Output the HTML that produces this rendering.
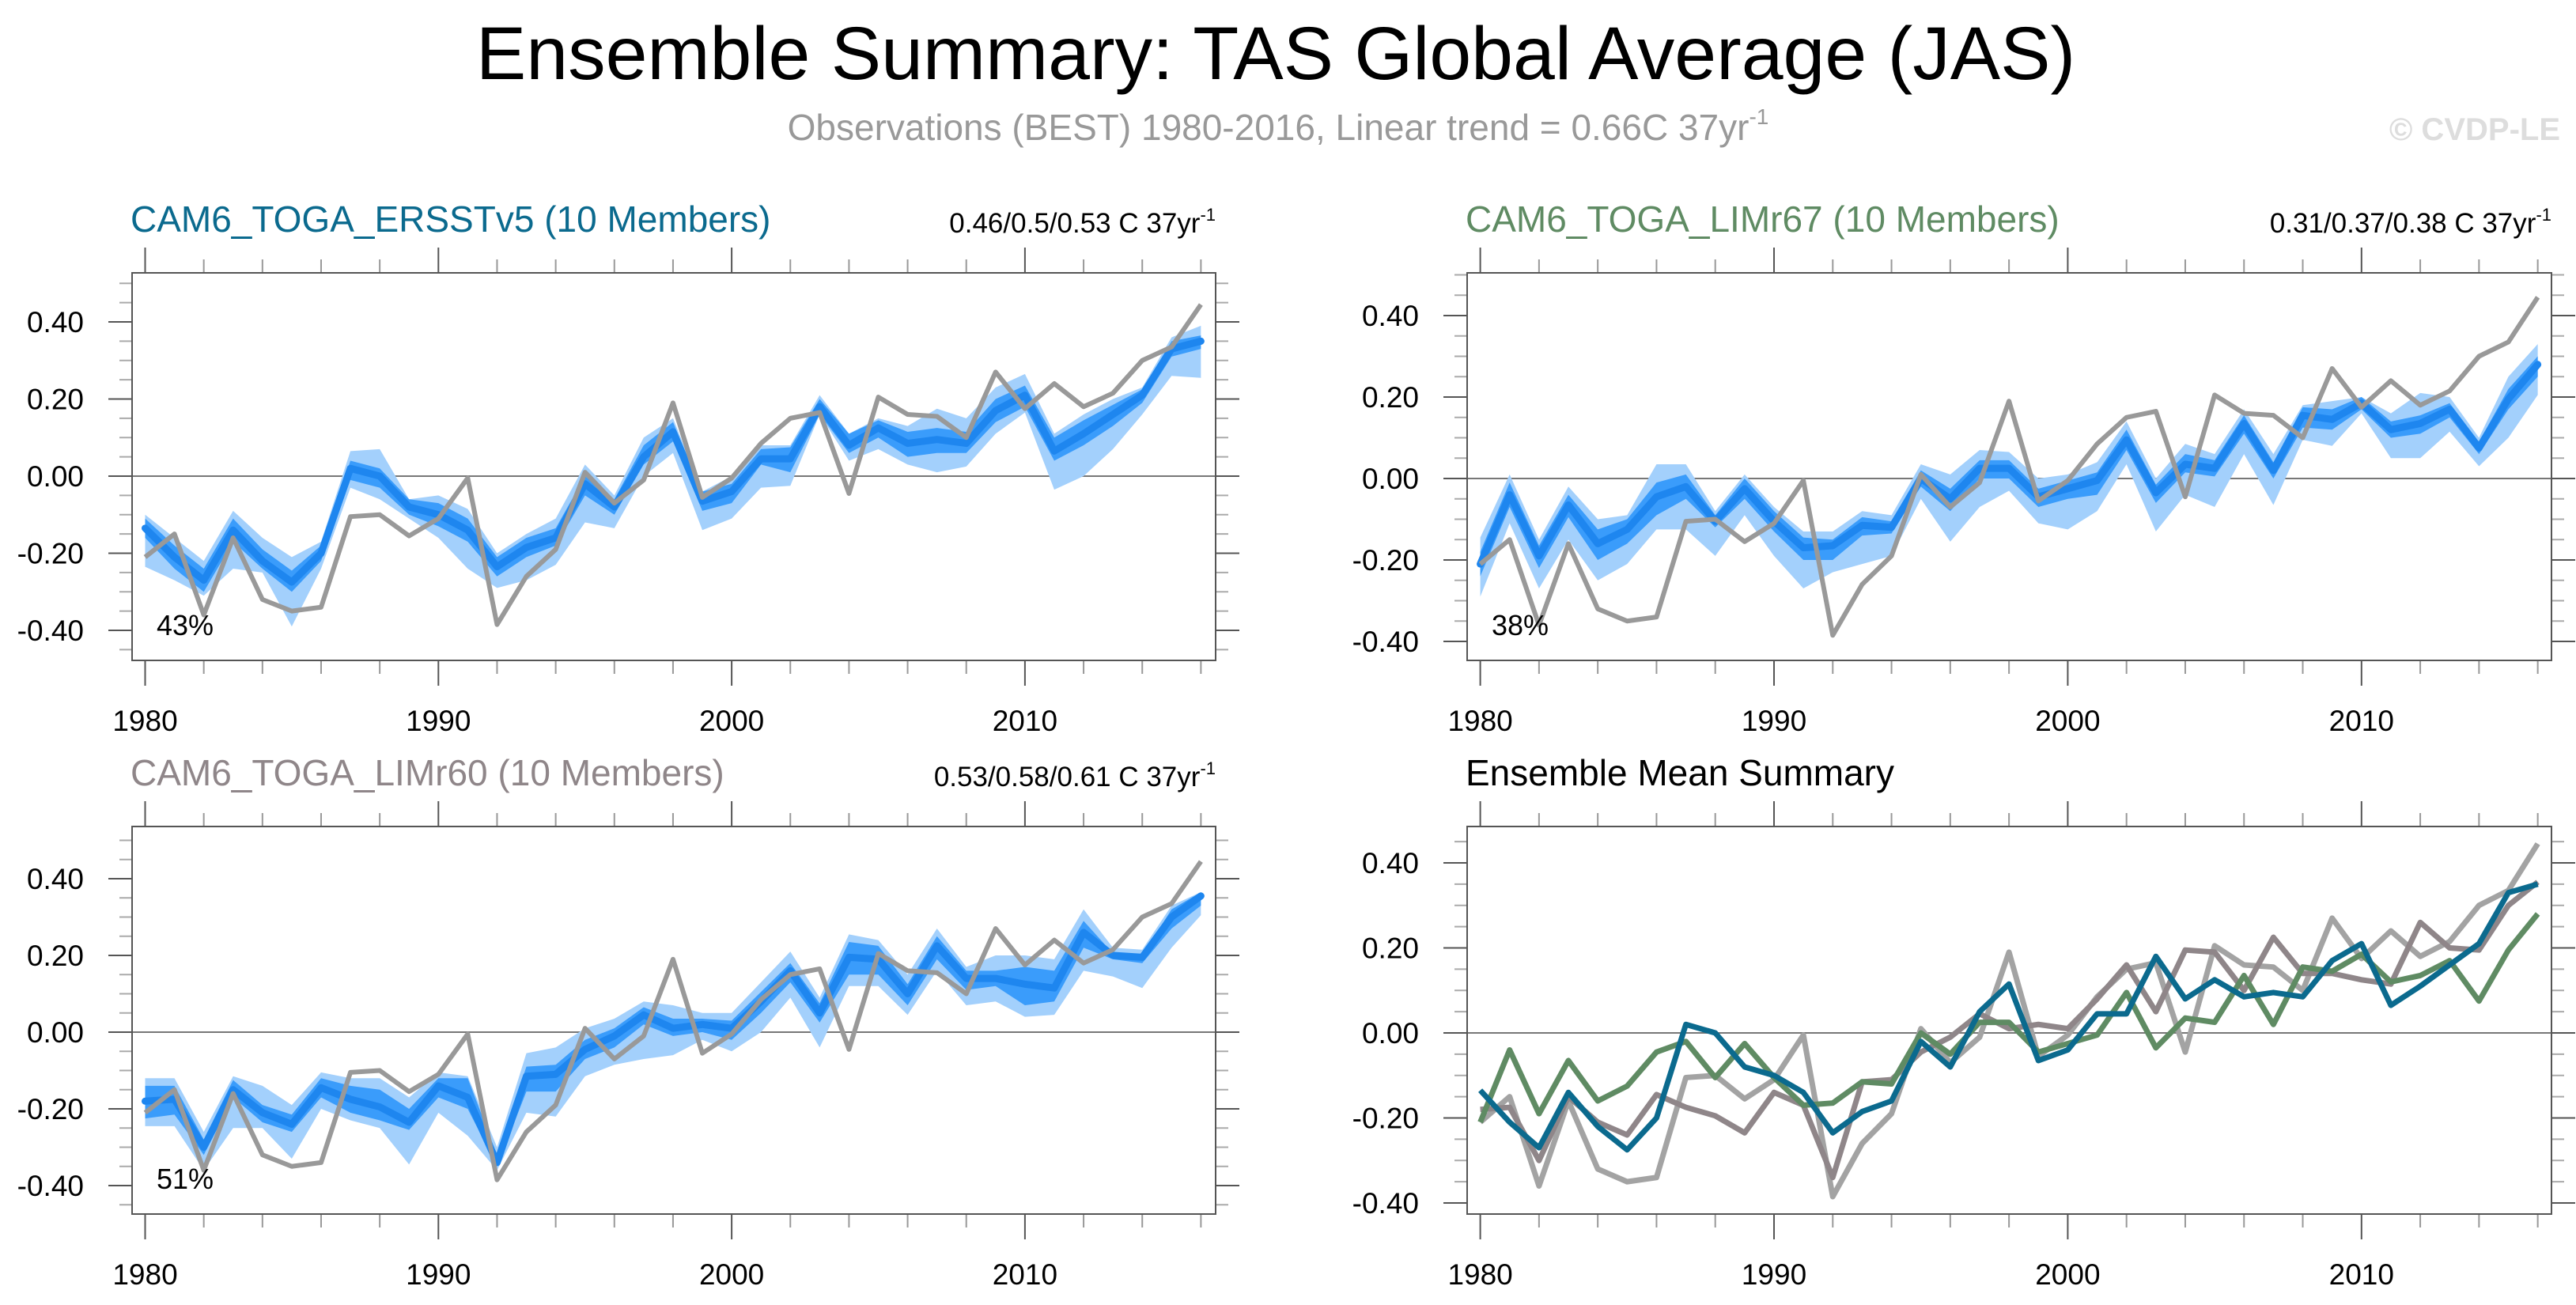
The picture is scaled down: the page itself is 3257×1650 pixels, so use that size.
<!DOCTYPE html>
<html><head><meta charset="utf-8"><title>Ensemble Summary: TAS Global Average (JAS)</title>
<style>
html,body{margin:0;padding:0;background:#fff;}
svg{display:block;font-family:"Liberation Sans",Arial,sans-serif;}
</style></head>
<body>
<svg id="chart" width="3257" height="1650" viewBox="0 0 3257 1650" xmlns="http://www.w3.org/2000/svg">
<text x="1613" y="100" font-size="95" text-anchor="middle" fill="#000">Ensemble Summary: TAS Global Average (JAS)</text>
<text x="1616" y="177" font-size="46" text-anchor="middle" fill="#999">Observations (BEST) 1980-2016, Linear trend = 0.66C 37yr<tspan font-size="28" dy="-20">-1</tspan></text>
<text x="3237" y="177" font-size="40" font-weight="bold" text-anchor="end" fill="#ddd">© CVDP-LE</text>
<g id="panels"></g>
</svg>
<script>
const years = [1980,1981,1982,1983,1984,1985,1986,1987,1988,1989,1990,1991,1992,1993,1994,1995,1996,1997,1998,1999,2000,2001,2002,2003,2004,2005,2006,2007,2008,2009,2010,2011,2012,2013,2014,2015,2016];
const obsBest = [-0.21,-0.15,-0.36,-0.16,-0.32,-0.35,-0.34,-0.105,-0.10,-0.155,-0.11,-0.005,-0.385,-0.26,-0.19,0.01,-0.07,-0.01,0.19,-0.055,-0.005,0.085,0.15,0.165,-0.045,0.205,0.16,0.155,0.10,0.27,0.175,0.24,0.18,0.215,0.30,0.335,0.445];

const erMean = [-0.135,-0.21,-0.27,-0.14,-0.22,-0.275,-0.2,0.02,0.0,-0.08,-0.1,-0.14,-0.235,-0.185,-0.16,-0.02,-0.08,0.05,0.115,-0.065,-0.04,0.045,0.045,0.18,0.08,0.125,0.085,0.095,0.085,0.17,0.21,0.065,0.11,0.16,0.21,0.33,0.35];
const erHi = [-0.10,-0.16,-0.22,-0.09,-0.16,-0.21,-0.17,0.065,0.07,-0.06,-0.05,-0.085,-0.20,-0.15,-0.11,0.03,-0.05,0.10,0.15,-0.04,0.0,0.08,0.08,0.21,0.11,0.15,0.13,0.175,0.15,0.23,0.265,0.11,0.16,0.20,0.23,0.36,0.39];
const erLo = [-0.235,-0.27,-0.31,-0.24,-0.25,-0.39,-0.24,-0.03,-0.06,-0.11,-0.16,-0.24,-0.29,-0.27,-0.23,-0.12,-0.135,0.0,0.06,-0.14,-0.11,-0.03,-0.025,0.16,0.04,0.07,0.03,0.01,0.025,0.11,0.165,-0.035,0.0,0.07,0.16,0.26,0.255];
const erIqHi = [-0.11,-0.18,-0.24,-0.11,-0.19,-0.245,-0.18,0.04,0.02,-0.06,-0.07,-0.11,-0.21,-0.16,-0.135,0.0,-0.06,0.08,0.14,-0.04,-0.02,0.07,0.075,0.2,0.11,0.145,0.115,0.125,0.115,0.2,0.235,0.1,0.145,0.185,0.225,0.35,0.365];
const erIqLo = [-0.16,-0.24,-0.3,-0.17,-0.24,-0.3,-0.22,-0.01,-0.03,-0.1,-0.13,-0.17,-0.26,-0.21,-0.18,-0.05,-0.1,0.03,0.09,-0.09,-0.07,0.03,0.01,0.16,0.06,0.1,0.05,0.06,0.06,0.14,0.18,0.04,0.08,0.13,0.19,0.31,0.33];

const l67Mean = [-0.21,-0.04,-0.19,-0.065,-0.16,-0.125,-0.045,-0.02,-0.105,-0.025,-0.105,-0.17,-0.165,-0.115,-0.12,0.0,-0.05,0.025,0.025,-0.045,-0.025,-0.005,0.095,-0.035,0.035,0.025,0.135,0.02,0.155,0.145,0.185,0.12,0.135,0.17,0.075,0.195,0.28];
const l67Hi = [-0.145,0.01,-0.15,-0.02,-0.10,-0.09,0.035,0.035,-0.08,0.01,-0.07,-0.13,-0.13,-0.08,-0.09,0.035,0.01,0.07,0.065,0.0,0.01,0.04,0.14,0.0,0.085,0.06,0.17,0.06,0.18,0.19,0.20,0.16,0.21,0.20,0.10,0.25,0.33];
const l67Lo = [-0.29,-0.11,-0.27,-0.15,-0.25,-0.21,-0.125,-0.125,-0.19,-0.09,-0.19,-0.27,-0.23,-0.21,-0.19,-0.05,-0.155,-0.07,-0.03,-0.11,-0.125,-0.08,0.035,-0.13,-0.04,-0.07,0.06,-0.065,0.095,0.08,0.16,0.05,0.05,0.115,0.03,0.10,0.205];
const l67IqHi = [-0.18,-0.01,-0.165,-0.04,-0.125,-0.1,-0.01,0.01,-0.09,0.0,-0.08,-0.145,-0.15,-0.095,-0.105,0.02,-0.025,0.045,0.045,-0.025,-0.005,0.015,0.12,-0.015,0.06,0.045,0.155,0.04,0.175,0.17,0.2,0.14,0.155,0.185,0.09,0.22,0.3];
const l67IqLo = [-0.24,-0.07,-0.22,-0.095,-0.2,-0.16,-0.09,-0.05,-0.12,-0.05,-0.13,-0.2,-0.2,-0.14,-0.135,-0.02,-0.08,0.0,0.0,-0.07,-0.05,-0.04,0.07,-0.06,0.015,0.005,0.11,0.0,0.125,0.12,0.17,0.1,0.11,0.15,0.06,0.17,0.25];

const l60Mean = [-0.18,-0.175,-0.30,-0.15,-0.21,-0.24,-0.145,-0.175,-0.195,-0.235,-0.14,-0.17,-0.34,-0.115,-0.11,-0.045,-0.01,0.045,0.01,0.02,0.01,0.08,0.16,0.05,0.195,0.19,0.10,0.225,0.14,0.14,0.125,0.115,0.26,0.20,0.195,0.30,0.355];
const l60Hi = [-0.12,-0.12,-0.26,-0.115,-0.14,-0.19,-0.105,-0.12,-0.12,-0.17,-0.105,-0.115,-0.30,-0.055,-0.04,0.01,0.035,0.08,0.07,0.05,0.05,0.13,0.21,0.09,0.255,0.24,0.15,0.27,0.17,0.20,0.20,0.19,0.32,0.22,0.215,0.33,0.365];
const l60Lo = [-0.245,-0.245,-0.36,-0.25,-0.25,-0.33,-0.20,-0.23,-0.25,-0.345,-0.21,-0.27,-0.36,-0.21,-0.22,-0.115,-0.085,-0.07,-0.06,-0.02,-0.05,0.0,0.09,-0.04,0.12,0.12,0.045,0.16,0.07,0.08,0.04,0.045,0.16,0.145,0.115,0.22,0.305];
const l60IqHi = [-0.14,-0.14,-0.28,-0.125,-0.19,-0.215,-0.12,-0.14,-0.15,-0.2,-0.12,-0.12,-0.32,-0.09,-0.085,-0.02,0.01,0.065,0.035,0.035,0.03,0.105,0.18,0.075,0.235,0.225,0.125,0.25,0.16,0.16,0.17,0.16,0.29,0.205,0.2,0.32,0.365];
const l60IqLo = [-0.225,-0.215,-0.32,-0.17,-0.235,-0.26,-0.17,-0.21,-0.23,-0.255,-0.17,-0.2,-0.35,-0.155,-0.155,-0.07,-0.04,0.02,-0.01,0.0,-0.02,0.05,0.13,0.025,0.15,0.15,0.07,0.19,0.11,0.12,0.07,0.08,0.22,0.19,0.18,0.27,0.33];

const yTicks = [-0.4,-0.2,0.0,0.2,0.4];
const yTickLabels = ["-0.40","-0.20","0.00","0.20","0.40"];
const xTicks = [1980,1990,2000,2010];
const xTickLabels = ["1980","1990","2000","2010"];

const NS = "http://www.w3.org/2000/svg";
const root = document.getElementById("panels");
function mk(tag, attrs, parent){
  const e = document.createElementNS(NS, tag);
  for (const k in attrs) e.setAttribute(k, attrs[k]);
  (parent||root).appendChild(e);
  return e;
}

function makePanel(cfg){
  const g = mk("g", {});
  
  
  const xs = y => cfg.x0 + (y - 1980) * cfg.pxYr;
  const ys = v => cfg.y0 - v * cfg.pxU;
  const L = cfg.left, R = cfg.right, T = cfg.top, B = cfg.bottom;
  for (let k = -9; k <= 10; k++) {
    const v = k * 0.05;
    const yy = ys(v);
    if (yy < T || yy > B) continue;
    const major = Math.abs(k % 4) === 0;
    const len = major ? 30 : 16;
    const t1 = mk("line", {x1:L-len, x2:L, y1:yy, y2:yy, stroke: major?"#555":"#aaa", "stroke-width":2}, g);
    
    
    const t2 = mk("line", {x1:R, x2:R+len, y1:yy, y2:yy, stroke: major?"#555":"#aaa", "stroke-width":2}, g);
    
    
  }
  for (let yr = 1980; yr <= 2016; yr += 2) {
    const major = (yr % 10 === 0);
    const xx = xs(yr);
    const len = major ? 32 : 17;
    const b = mk("line", {x1:xx, x2:xx, y1:B, y2:B+len, stroke: major?"#555":"#999", "stroke-width":2}, g);
    
    
    const t = mk("line", {x1:xx, x2:xx, y1:T-len, y2:T, stroke: major?"#555":"#999", "stroke-width":2}, g);
    
    
  }
  const z = mk("line", {x1:L, x2:R, y1:ys(0), y2:ys(0), stroke:"#777", "stroke-width":2}, g);
  
  

  function bandPath(hi, lo){
    let d = "";
    for (let i = 0; i < years.length; i++) d += (i?"L":"M") + xs(years[i]) + "," + ys(hi[i]);
    for (let i = years.length-1; i >= 0; i--) d += "L" + xs(years[i]) + "," + ys(lo[i]);
    return d + "Z";
  }
  function linePath(vals){
    let d = "";
    for (let i = 0; i < years.length; i++) d += (i?"L":"M") + xs(years[i]) + "," + ys(vals[i]);
    return d;
  }
  if (cfg.hi) {
    const b1 = mk("path", {d:bandPath(cfg.hi, cfg.lo), fill:"#a3d0fc"}, g);
    
    
    const b2 = mk("path", {d:bandPath(cfg.iqHi, cfg.iqLo), fill:"#3a9cfb"}, g);
    
    
    const m = mk("path", {d:linePath(cfg.mean), fill:"none", stroke:"#1e86ef", "stroke-width":9, "stroke-linejoin":"round", "stroke-linecap":"round"}, g);
    
    
    const o = mk("path", {d:linePath(obsBest), fill:"none", stroke:"#999", "stroke-width":6, "stroke-linejoin":"round"}, g);
    
    
  }
  if (cfg.lines) {
    for (const ln of cfg.lines) {
      const p = mk("path", {d:linePath(ln.vals), fill:"none", stroke:ln.color, "stroke-width":7, "stroke-linejoin":"round"}, g);
      
      
    }
  }
  const box = mk("rect", {x:L, y:T, width:R-L, height:B-T, fill:"none", stroke:"#555", "stroke-width":2}, g);
  
  
  for (let i = 0; i < yTicks.length; i++) {
    const t = mk("text", {x:L-61, y:ys(yTicks[i])+13, "font-size":37, "text-anchor":"end", fill:"#000"}, g);
    t.textContent = yTickLabels[i];
    
    
  }
  for (let i = 0; i < xTicks.length; i++) {
    const t = mk("text", {x:xs(xTicks[i]), y:B+89, "font-size":37, "text-anchor":"middle", fill:"#000"}, g);
    t.textContent = xTickLabels[i];
    
    
  }
  const title = mk("text", {x:L-2, y:T-52, "font-size":46, fill:cfg.titleColor}, g);
  title.textContent = cfg.title;
  
  
  if (cfg.trend) {
    const tr = mk("text", {x:R, y:T-51, "font-size":35, "text-anchor":"end", fill:"#000"}, g);
    
    
    tr.appendChild(document.createTextNode(cfg.trend + " C 37yr"));
    const sup = mk("tspan", {"font-size":22, dy:-15}, tr);
    sup.textContent = "-1";
  }
  if (cfg.pct) {
    const pc = mk("text", {x:L+31, y:B-32, "font-size":36, fill:"#000"}, g);
    pc.textContent = cfg.pct;
    
    
  }
}

makePanel({name:"panel-cam6-toga-ersstv5", left:167, right:1537, top:345, bottom:835, x0:183.5, pxYr:37.08, y0:602, pxU:487.5,
  title:"CAM6_TOGA_ERSSTv5 (10 Members)", titleColor:"#0b6a8e", trend:"0.46/0.5/0.53", pct:"43%",
  mean:erMean, hi:erHi, lo:erLo, iqHi:erIqHi, iqLo:erIqLo});
makePanel({name:"panel-cam6-toga-limr67", left:1855, right:3226, top:345, bottom:835, x0:1871.6, pxYr:37.14, y0:605, pxU:515,
  title:"CAM6_TOGA_LIMr67 (10 Members)", titleColor:"#5f8b63", trend:"0.31/0.37/0.38", pct:"38%",
  mean:l67Mean, hi:l67Hi, lo:l67Lo, iqHi:l67IqHi, iqLo:l67IqLo});
makePanel({name:"panel-cam6-toga-limr60", left:167, right:1537, top:1045, bottom:1535, x0:183.5, pxYr:37.08, y0:1305, pxU:485,
  title:"CAM6_TOGA_LIMr60 (10 Members)", titleColor:"#8f8689", trend:"0.53/0.58/0.61", pct:"51%",
  mean:l60Mean, hi:l60Hi, lo:l60Lo, iqHi:l60IqHi, iqLo:l60IqLo});
makePanel({name:"panel-ensemble-mean-summary", left:1855, right:3226, top:1045, bottom:1535, x0:1871.6, pxYr:37.14, y0:1306, pxU:537.5,
  title:"Ensemble Mean Summary", titleColor:"#000",
  lines:[
    {name:"observations-line", vals:obsBest, color:"#a3a3a3"},
    {name:"limr60-mean-line", vals:l60Mean, color:"#8f8689"},
    {name:"limr67-mean-line", vals:l67Mean, color:"#5f8b63"},
    {name:"ersstv5-mean-line", vals:erMean, color:"#0b6a8e"}
  ]});
</script>
</body></html>
